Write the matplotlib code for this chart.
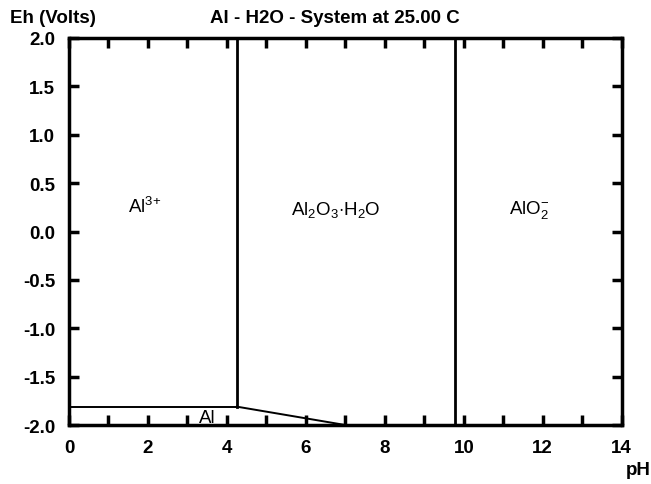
import matplotlib
matplotlib.use("Agg")
import matplotlib.pyplot as plt
from matplotlib.ticker import MultipleLocator

plt.rcParams['font.family'] = ['Liberation Sans', 'DejaVu Sans']
plt.rcParams['mathtext.fontset'] = 'custom'
plt.rcParams['mathtext.rm'] = 'Liberation Sans'
plt.rcParams['mathtext.it'] = 'Liberation Sans'
plt.rcParams['mathtext.bf'] = 'Liberation Sans:bold'

# phase boundaries (pH, Eh)
al3_al_ph = [0.0, 4.25]
al3_al_eh = [-1.81, -1.81]
oxide_al_ph = [4.25, 7.0]
oxide_al_eh = [-1.81, -2.0]
al3_oxide_ph = [4.25, 4.25]
al3_oxide_eh = [-1.81, 2.0]
oxide_alo2_ph = [9.77, 9.77]
oxide_alo2_eh = [-2.0, 2.0]

# species labels and where they sit
species = ['Al$^{3{+}}$', 'Al$_2$O$_3$$\\cdot$H$_2$O', 'AlO$_2^{-}$', 'Al']
species_ph = [1.92, 6.75, 11.65, 3.5]
species_eh = [0.26, 0.23, 0.23, -1.92]

xticks = [0, 2, 4, 6, 8, 10, 12, 14]
yticks = [-2.0, -1.5, -1.0, -0.5, 0.0, 0.5, 1.0, 1.5, 2.0]

fs = 13.5

fig = plt.figure(figsize=(6.51, 4.85), dpi=100)
ax = fig.add_axes([0.106, 0.1216, 0.849, 0.798])

ax.plot(al3_al_ph, al3_al_eh, color='black', lw=1.4)
ax.plot(oxide_al_ph, oxide_al_eh, color='black', lw=1.4)
ax.plot(al3_oxide_ph, al3_oxide_eh, color='black', lw=2)
ax.plot(oxide_alo2_ph, oxide_alo2_eh, color='black', lw=2)

for name, x, y in zip(species, species_ph, species_eh):
    ax.text(x, y, name, ha='center', va='center', fontsize=fs)

ax.set_xlim(0, 14)
ax.set_ylim(-2, 2)
ax.set_xticks(xticks)
ax.set_xticklabels([str(v) for v in xticks])
ax.xaxis.set_minor_locator(MultipleLocator(1))
ax.set_yticks(yticks)
ax.set_yticklabels(['%.1f' % v for v in yticks])

ax.tick_params(which='both', direction='in', length=7, width=2.5,
               top=True, right=True, labelsize=fs)
ax.tick_params(axis='x', pad=10)
ax.tick_params(axis='y', pad=10)
for lab in ax.get_xticklabels() + ax.get_yticklabels():
    lab.set_fontweight('bold')
for sp in ax.spines.values():
    sp.set_linewidth(2.5)

fig.text(0.015, 0.962, 'Eh (Volts)', fontsize=fs, fontweight='bold', va='center')
fig.text(0.514, 0.962, 'Al - H2O - System at 25.00 C', fontsize=fs,
         fontweight='bold', ha='center', va='center')
fig.text(0.98, 0.03, 'pH', fontsize=fs, fontweight='bold', ha='center', va='center')

fig.savefig('out.png', dpi=100)
